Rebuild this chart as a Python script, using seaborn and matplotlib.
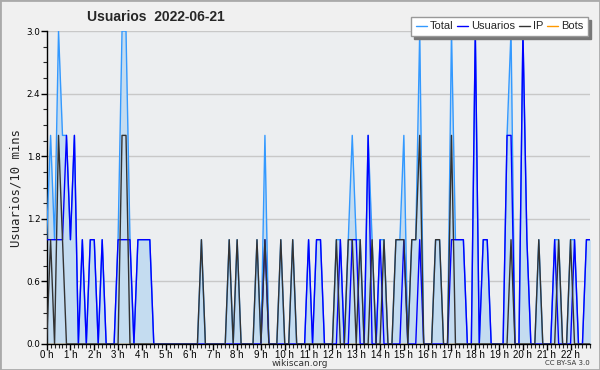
import numpy as np
import pandas as pd
import matplotlib
matplotlib.use("Agg")
import matplotlib.pyplot as plt
import seaborn as sns
from matplotlib.ticker import MultipleLocator, FixedLocator
from matplotlib import font_manager

title = "Usuarios  2022-06-21"
ylabel = "Usuarios/10 mins"
series_names = ["Total", "Usuarios", "IP", "Bots"]
hour_labels = [f"{h} h" for h in range(0, 23)]
y_labels = ["0.0", "0.6", "1.2", "1.8", "2.4", "3.0"]

# 10-minute slots, index 0 = 00:00
usuarios = [1, 1, 1, 1, 1, 2, 1, 2, 0, 1, 0, 1, 1, 0, 1, 0, 0, 0, 1, 1,
            1, 1, 0, 1, 1, 1, 1, 0, 0, 0, 0, 0, 0, 0, 0, 0, 0, 0, 0, 0,
            0, 0, 0, 0, 0, 0, 0, 0, 0, 0, 0, 0, 0, 0, 0, 1, 0, 0, 0, 0,
            0, 0, 0, 0, 0, 0, 1, 0, 1, 1, 0, 0, 0, 0, 1, 0, 0, 1, 1, 0,
            0, 2, 0, 0, 1, 0, 0, 0, 0, 0, 1, 0, 0, 0, 1, 0, 0, 0, 0, 0,
            0, 0, 1, 1, 1, 1, 0, 0, 3, 0, 1, 1, 0, 0, 0, 0, 2, 2, 0, 0,
            3, 1, 0, 0, 0, 0, 0, 0, 1, 0, 0, 0, 0, 1, 0, 0, 1, 1]
ip = [0, 1, 0, 2, 1, 0, 0, 0, 0, 0, 0, 0, 0, 0, 0, 0, 0, 0, 0, 2,
      2, 0, 0, 0, 0, 0, 0, 0, 0, 0, 0, 0, 0, 0, 0, 0, 0, 0, 0, 1,
      0, 0, 0, 0, 0, 0, 1, 0, 1, 0, 0, 0, 0, 1, 0, 1, 0, 0, 0, 1,
      0, 0, 1, 0, 0, 0, 0, 0, 0, 0, 0, 0, 0, 1, 0, 0, 1, 1, 0, 1,
      0, 0, 1, 0, 0, 1, 0, 0, 1, 1, 1, 0, 1, 1, 2, 0, 0, 0, 1, 1,
      0, 0, 2, 0, 0, 0, 0, 0, 0, 0, 0, 0, 0, 0, 0, 0, 0, 1, 0, 0,
      0, 0, 0, 0, 1, 0, 0, 0, 0, 1, 0, 0, 1, 0, 0, 0, 0, 0]
total = [1, 2, 1, 3, 2, 2, 1, 2, 0, 1, 0, 1, 1, 0, 1, 0, 0, 0, 1, 3,
         3, 1, 0, 1, 1, 1, 1, 0, 0, 0, 0, 0, 0, 0, 0, 0, 0, 0, 0, 1,
         0, 0, 0, 0, 0, 0, 1, 0, 1, 0, 0, 0, 0, 1, 0, 2, 0, 0, 0, 1,
         0, 0, 1, 0, 0, 0, 1, 0, 1, 1, 0, 0, 0, 1, 1, 0, 1, 2, 1, 1,
         0, 2, 1, 0, 1, 1, 0, 0, 1, 1, 2, 0, 1, 1, 3, 0, 0, 0, 1, 1,
         0, 0, 3, 1, 1, 1, 0, 0, 3, 0, 1, 1, 0, 0, 0, 0, 2, 3, 0, 0,
         3, 1, 0, 0, 1, 0, 0, 0, 1, 1, 0, 0, 1, 1, 0, 0, 1, 1]
bots = [0] * len(total)

slot = np.arange(len(total))
df = pd.DataFrame({"slot": slot, "Total": total, "Usuarios": usuarios,
                   "IP": ip, "Bots": bots})

sns.set_style("white")
plt.rcParams["font.family"] = ["DejaVu Sans"]

installed = {f.name for f in font_manager.fontManager.ttflist}
narrow = "Liberation Sans Narrow" if "Liberation Sans Narrow" in installed else "Liberation Sans"

fig = plt.figure(figsize=(6, 3.7), dpi=100, facecolor="#f0f0f0")
ax = fig.add_axes([0.0777, 0.0703, 0.9063, 0.8457])
ax.set_facecolor("#eceef0")

colors = {"Total": "#3399ff", "Usuarios": "#0000ff", "IP": "#333333", "Bots": "#ff9900"}

ax.fill_between(df["slot"], df["Total"], 0, color="#c4dcf0", zorder=1, linewidth=0)
sns.lineplot(data=df, x="slot", y="Bots", ax=ax, color=colors["Bots"], lw=1, zorder=2)
sns.lineplot(data=df, x="slot", y="Total", ax=ax, color=colors["Total"], lw=1, zorder=3)
sns.lineplot(data=df, x="slot", y="Usuarios", ax=ax, color=colors["Usuarios"], lw=1, zorder=4)
sns.lineplot(data=df, x="slot", y="IP", ax=ax, color=colors["IP"], lw=1, zorder=5)

ax.set_xlim(0, len(total) - 1)
ax.set_ylim(0, 3.0)
ax.yaxis.set_major_locator(FixedLocator([0, 0.6, 1.2, 1.8, 2.4, 3.0]))
ax.yaxis.set_minor_locator(MultipleLocator(0.15))
ax.set_yticklabels(y_labels)
ax.xaxis.set_major_locator(FixedLocator(list(range(0, 133, 6))))
ax.set_xticklabels(hour_labels)
ax.xaxis.set_minor_locator(MultipleLocator(1))
ax.grid(axis="y", color="#c8c8c8", lw=1, zorder=0)
ax.set_axisbelow(True)

for s in ["top", "right"]:
    ax.spines[s].set_visible(False)
for s in ["left", "bottom"]:
    ax.spines[s].set_color("black")
    ax.spines[s].set_linewidth(1)

ax.tick_params(axis="both", which="major", direction="out", length=4, width=1,
               colors="black", pad=0.5, left=True, bottom=True)
ax.tick_params(axis="both", which="minor", direction="out", length=3, width=0.8,
               left=True, bottom=True)
for lab in ax.get_xticklabels():
    lab.set_family([narrow, "DejaVu Sans"])
    lab.set_fontsize(7)
for lab in ax.get_yticklabels():
    lab.set_family("DejaVu Sans")
    lab.set_fontsize(6.3)
ax.set_xlabel("")
ax.set_ylabel(ylabel, fontsize=8.8, family="DejaVu Sans Mono", labelpad=3)

fig.text(87 / 600, 1 - 17 / 370, title, fontsize=10, fontweight="bold",
         family=[narrow, "DejaVu Sans"], ha="left", va="center")

handles = [plt.Line2D([], [], color=colors[n], lw=1) for n in series_names]
leg = fig.legend(handles, series_names, loc="upper right",
                 bbox_to_anchor=(588 / 600, 1 - 17 / 370), ncol=4,
                 prop={"family": [narrow, "DejaVu Sans"], "size": 8},
                 frameon=True, fancybox=False, shadow={"color": "#777777", "alpha": 1},
                 handlelength=1.0, handletextpad=0.3, columnspacing=0.3,
                 borderpad=0.4, borderaxespad=0)
leg.get_frame().set_edgecolor("#999999")
leg.get_frame().set_facecolor("white")

fig.text(300 / 600, 1 - 364 / 370, "wikiscan.org", fontsize=6.5, ha="center",
         va="center", color="#333333")
fig.text(590 / 600, 1 - 363 / 370, "CC BY-SA 3.0", fontsize=5, ha="right",
         va="center", color="#333333")

border = plt.Rectangle((0, 0), 1, 1, transform=fig.transFigure, fill=False,
                       edgecolor="#aaaaaa", lw=2)
fig.patches.append(border)

fig.savefig("out.png", dpi=100, facecolor=fig.get_facecolor())
